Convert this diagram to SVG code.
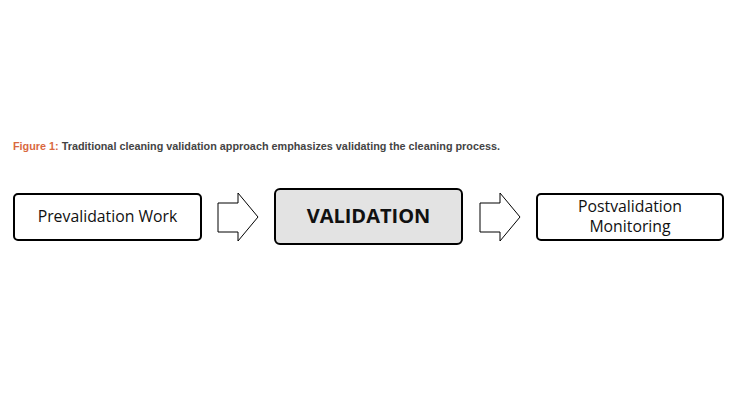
<svg xmlns="http://www.w3.org/2000/svg" width="750" height="420" viewBox="0 0 750 420">
<style>
.box{fill:#fff;stroke:#000;stroke-width:2}
.gray{fill:#e3e3e3}
.arr{fill:#fff;stroke:#000;stroke-width:1}
.t{font-family:"Open Sans","Noto Sans",sans-serif;font-size:15.8px;fill:#111;text-anchor:middle}
.b{font-weight:bold;font-size:20px}
.cap{font-family:"Liberation Sans",Arial,sans-serif;font-size:10.5px;font-weight:bold;fill:#444}
</style>
<rect width="750" height="420" fill="#fff"/>
<text class="cap" x="13" y="150" textLength="487" lengthAdjust="spacingAndGlyphs"><tspan fill="#d9693f">Figure 1:</tspan> Traditional cleaning validation approach emphasizes validating the cleaning process.</text>
<g id="connectors">
<polygon class="arr" points="218,203 238,203 238,193 258,217 238,241 238,232 218,232"/>
<polygon class="arr" points="480,203 500,203 500,193 520,217 500,241 500,232 480,232"/>
</g>
<g id="prevalidation">
<rect class="box" x="14" y="194" width="187" height="46" rx="4"/>
<text class="t" x="107.5" y="222">Prevalidation Work</text>
</g>
<g id="validation">
<rect class="box gray" x="275" y="189" width="187" height="55" rx="5"/>
<text class="t b" x="368.5" y="223">VALIDATION</text>
</g>
<g id="postvalidation">
<rect class="box" x="537" y="194" width="186" height="46" rx="4"/>
<text class="t" x="630" y="212">Postvalidation</text>
<text class="t" x="630" y="232">Monitoring</text>
</g>
</svg>
